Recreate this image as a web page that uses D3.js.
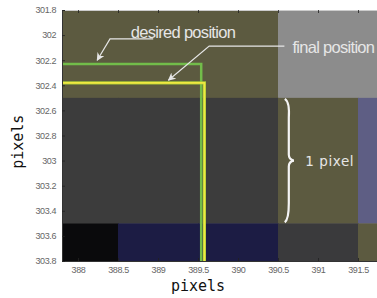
<!DOCTYPE html>
<html>
<head>
<meta charset="utf-8">
<script src="https://cdn.jsdelivr.net/npm/d3@7"></script>
<style>
  body { margin: 0; background: #fff; }
  svg { display: block; }
</style>
</head>
<body>
<div id="chart"></div>
<script>
// Pixel grid (pixel centres) and the colour of each image pixel
var colCentres = [388, 389, 390, 391, 392];
var rowCentres = [302, 303, 304];
var cellColours = [
  ["#5c5a40", "#5c5a40", "#5c5a40", "#8c8c8c", "#8c8c8c"],
  ["#3c3c3c", "#3c3c3c", "#3c3c3c", "#5c5a40", "#5e5e84"],
  ["#0a0a0c", "#1c1c44", "#1c1c44", "#3a3a3c", "#5c5a40"]
];

var xTicks = [388, 388.5, 389, 389.5, 390, 390.5, 391, 391.5];
var yTicks = [301.8, 302, 302.2, 302.4, 302.6, 302.8, 303, 303.2, 303.4, 303.6, 303.8];

// corner of each edge: [x, y]
var desiredCorner = [389.54, 302.23];
var finalCorner = [389.58, 302.38];

var W = 377, H = 298;
var margin = {left: 62, top: 10, right: 0, bottom: 37};

var x = d3.scaleLinear().domain([387.8, 392]).range([margin.left, margin.left + 4.2 * 80]);
var y = d3.scaleLinear().domain([301.8, 303.8]).range([margin.top, H - margin.bottom]);

var svg = d3.select("#chart").append("svg")
    .attr("width", W)
    .attr("height", H);

svg.append("clipPath").attr("id", "plot")
  .append("rect")
    .attr("x", x(387.8)).attr("y", y(301.8))
    .attr("width", W - x(387.8)).attr("height", y(303.8) - y(301.8));

var plot = svg.append("g").attr("clip-path", "url(#plot)");

// image pixels
rowCentres.forEach(function(r, i) {
  colCentres.forEach(function(c, j) {
    plot.append("rect")
      .attr("x", x(c - 0.5))
      .attr("y", y(r - 0.5))
      .attr("width", x(c + 0.5) - x(c - 0.5) + 0.5)
      .attr("height", y(r + 0.5) - y(r - 0.5) + 0.5)
      .attr("fill", cellColours[i][j]);
  });
});

// edge lines
function edge(corner) {
  return d3.line()([
    [x(387.8), y(corner[1])],
    [x(corner[0]), y(corner[1])],
    [x(corner[0]), y(303.8)]
  ]);
}
plot.append("path").attr("d", edge(desiredCorner))
  .attr("fill", "none").attr("stroke", "#72bc4a").attr("stroke-width", 2.5);
plot.append("path").attr("d", edge(finalCorner))
  .attr("fill", "none").attr("stroke", "#a8c838").attr("stroke-width", 3.2);
plot.append("path").attr("d", edge(finalCorner))
  .attr("fill", "none").attr("stroke", "#f0e840").attr("stroke-width", 1.8);

// axes (box with inward ticks)
var axisCol = "#333";
var fmt = function(d) { return String(d); };
var xAxisB = d3.axisBottom(x).tickValues(xTicks).tickSize(-3).tickPadding(6).tickFormat(fmt);
var xAxisT = d3.axisTop(x).tickValues(xTicks).tickSize(-3).tickFormat("");
var yAxisL = d3.axisLeft(y).tickValues(yTicks).tickSize(-3).tickPadding(6).tickFormat(fmt);

var gx = svg.append("g").attr("transform", "translate(0," + y(303.8) + ")").call(xAxisB);
var gxt = svg.append("g").attr("transform", "translate(0," + y(301.8) + ")").call(xAxisT);
var gy = svg.append("g").attr("transform", "translate(" + x(387.8) + ",0)").call(yAxisL);

[gx, gxt, gy].forEach(function(g) {
  g.select(".domain").attr("stroke", axisCol).attr("stroke-width", 1);
  g.selectAll(".tick line").attr("stroke", "#222").attr("stroke-opacity", 0.8);
  g.selectAll("text")
    .attr("fill", "#666")
    .style("font-family", "Liberation Sans, Arial, sans-serif")
    .style("font-size", "9px")
    .style("letter-spacing", "-0.4px");
});
gxt.select(".domain").attr("stroke", "#ccc");

// axis titles
svg.append("text")
  .attr("x", x(389.5)).attr("y", 291)
  .attr("text-anchor", "middle")
  .style("font-family", "DejaVu Sans Mono, monospace")
  .style("font-size", "15px")
  .attr("fill", "#111")
  .text("pixels");

svg.append("text")
  .attr("transform", "translate(23," + y(302.85) + ") rotate(-90)")
  .attr("text-anchor", "middle")
  .style("font-family", "DejaVu Sans Mono, monospace")
  .style("font-size", "15px")
  .attr("fill", "#111")
  .text("pixels");

// annotations
var annoCol = "#e6e6e6";
svg.append("defs").append("marker")
    .attr("id", "arrow")
    .attr("viewBox", "0 0 10 10")
    .attr("refX", 9).attr("refY", 5)
    .attr("markerWidth", 8).attr("markerHeight", 8)
    .attr("markerUnits", "userSpaceOnUse")
    .attr("orient", "auto")
  .append("path")
    .attr("d", "M0,0 L10,5 L0,10 L3,5 Z")
    .attr("fill", annoCol);

svg.append("text")
  .attr("x", x(388.66)).attr("y", y(302.02))
  .style("font-family", "Liberation Sans, Arial, sans-serif")
  .style("font-size", "16.5px")
  .style("letter-spacing", "-0.7px")
  .attr("fill", annoCol)
  .text("desired position");

svg.append("path")
  .attr("d", d3.line()([[x(388.94), y(302.03)], [x(388.4), y(302.03)], [x(388.24), y(302.2)]]))
  .attr("fill", "none").attr("stroke", annoCol).attr("stroke-width", 1.2)
  .attr("marker-end", "url(#arrow)");

svg.append("text")
  .attr("x", x(390.68)).attr("y", y(302.14))
  .style("font-family", "Liberation Sans, Arial, sans-serif")
  .style("font-size", "16.5px")
  .style("letter-spacing", "-0.7px")
  .attr("fill", annoCol)
  .text("final position");

svg.append("path")
  .attr("d", d3.line()([[x(390.58), y(302.088)], [x(389.64), y(302.088)], [x(389.13), y(302.36)]]))
  .attr("fill", "none").attr("stroke", annoCol).attr("stroke-width", 1.2)
  .attr("marker-end", "url(#arrow)");

// curly brace spanning one pixel
var bx = x(390.61), by0 = y(302.5), by1 = y(303.5), bm = (by0 + by1) / 2;
svg.append("path")
  .attr("d", "M" + (bx - 2) + "," + (by0 + 1) +
             " Q" + (bx + 3) + "," + (by0 + 4) + " " + (bx + 2) + "," + (by0 + 20) +
             " L" + (bx + 2) + "," + (bm - 6) +
             " Q" + (bx + 2) + "," + (bm - 1) + " " + (bx + 7) + "," + bm +
             " Q" + (bx + 2) + "," + (bm + 1) + " " + (bx + 2) + "," + (bm + 6) +
             " L" + (bx + 2) + "," + (by1 - 20) +
             " Q" + (bx + 2) + "," + (by1 - 4) + " " + (bx - 2) + "," + (by1 - 1))
  .attr("fill", "none").attr("stroke", "#f4f4f4").attr("stroke-width", 2.2);

svg.append("text")
  .attr("x", x(390.84)).attr("y", y(303.04))
  .style("font-family", "DejaVu Sans, sans-serif")
  .style("font-size", "13.5px")
  .style("letter-spacing", "0.6px")
  .attr("fill", annoCol)
  .text("1 pixel");
</script>
</body>
</html>
